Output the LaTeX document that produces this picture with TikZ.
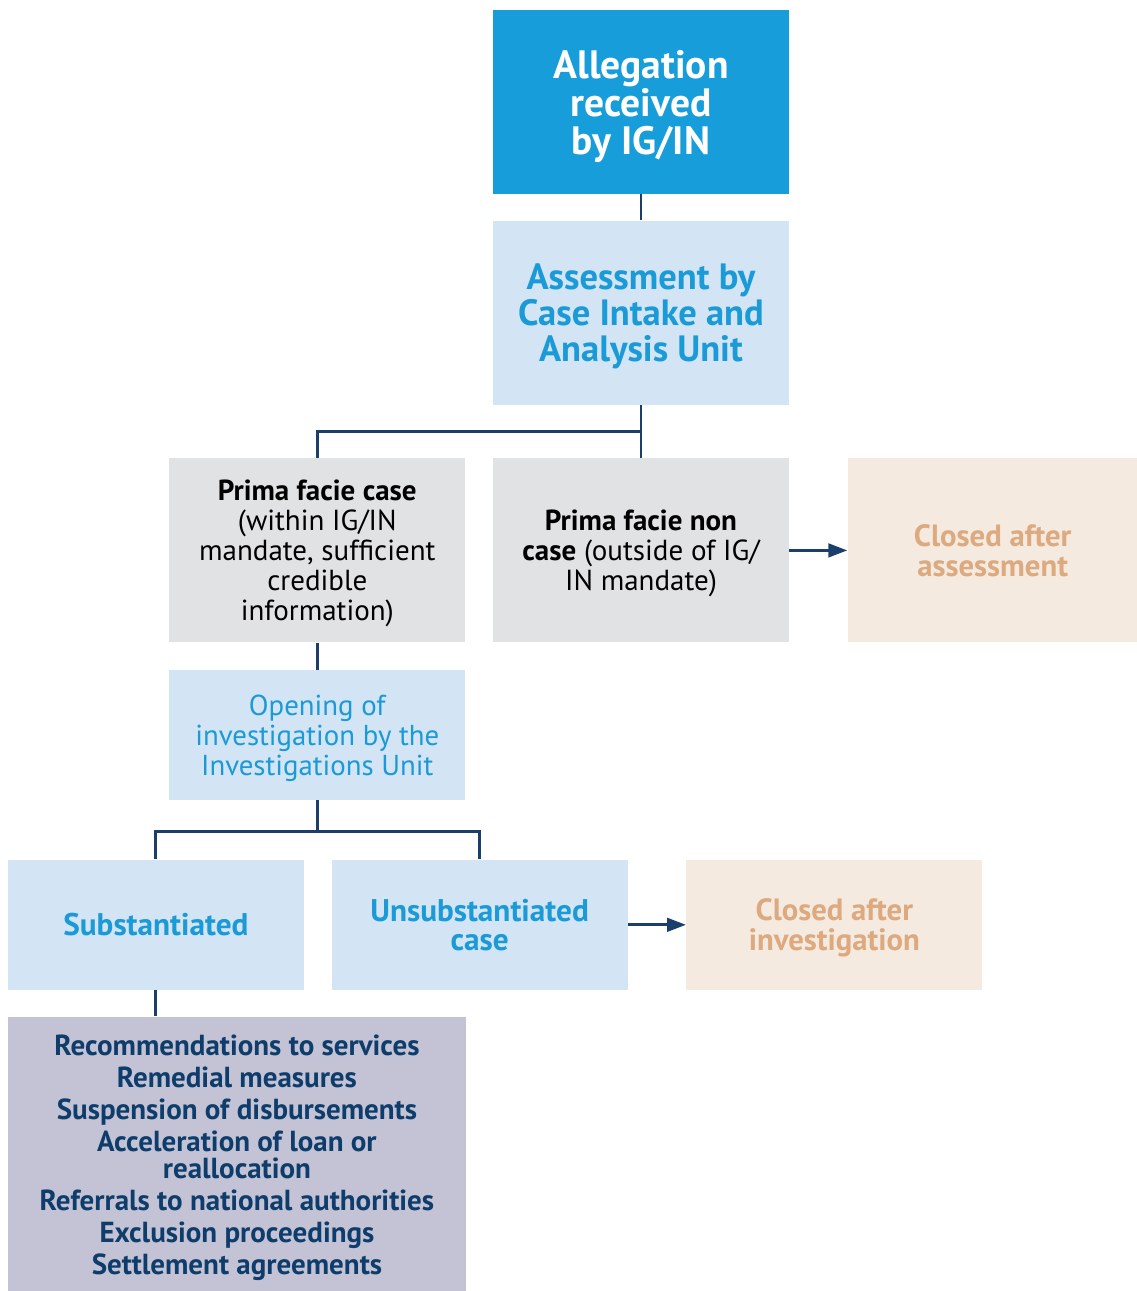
\documentclass[tikz,border=0pt]{standalone}
\usepackage{fontspec}
\setmainfont{PT Sans}
\usetikzlibrary{positioning,arrows.meta}

\definecolor{cdeep}{HTML}{179DD9}
\definecolor{cpale}{HTML}{D3E4F4}
\definecolor{cbluetext}{HTML}{1A9AD6}
\definecolor{cgrey}{HTML}{E1E2E4}
\definecolor{csand}{HTML}{F5EAE0}
\definecolor{csandtext}{HTML}{DDA97F}
\definecolor{clilac}{HTML}{C3C3D5}
\definecolor{cnavy}{HTML}{0F3D6B}
\definecolor{clink}{HTML}{1B3E6A}
\newcommand\fsz[2]{\fontsize{#1}{#2}\selectfont\lineskiplimit=-20pt}

\begin{document}
\begin{tikzpicture}[
        box/.style={rectangle,minimum width=5.92cm,minimum height=3.68cm,inner sep=0pt,
            text depth=0pt,align=center,font=\fsz{16.5}{17}},
        flat/.style={box,minimum height=2.6cm},
        link/.style={draw=clink,line width=1.7pt},
        >={Triangle[length=0.38cm,width=0.27cm]}]
        \useasboundingbox (0,0) rectangle (22.74,-25.82);

        \node[box,fill=cdeep,text=white,font=\fsz{22.5}{21.6}\bfseries] (alleg) at (12.82,-2.04)
            {Allegation\\received\\by IG/IN};
        \node[box,fill=cpale,text=cbluetext,font=\fsz{20.8}{20.5}\bfseries,below=0.52cm of alleg] (assess)
            {Assessment by\\Case Intake and\\Analysis Unit};
        \node[box,fill=cgrey,text=black,below=1.06cm of assess] (noncase)
            {\textbf{Prima facie non}\\\textbf{case} (outside of IG/\\IN mandate)};
        \node[box,fill=cgrey,text=black,left=0.54cm of noncase] (primcase)
            {\textbf{Prima facie case}\\(within IG/IN\\mandate, sufficient\\credible\\information)};
        \node[box,minimum width=5.8cm,fill=csand,text=csandtext,font=\fsz{17.5}{17}\bfseries,right=1.16cm of noncase] (closedA)
            {Closed after\\assessment};
        \node[flat,fill=cpale,text=cbluetext,font=\fsz{16.4}{17},below=0.54cm of primcase] (opening)
            {Opening of\\investigation by the\\Investigations Unit};
        \node[flat,fill=cpale,text=cbluetext,font=\fsz{17.8}{17}\bfseries,below left=1.18cm and 0.26cm of opening.south] (subst)
            {Substantiated};
        \node[flat,fill=cpale,text=cbluetext,font=\fsz{17.8}{17}\bfseries,below right=1.18cm and 0.28cm of opening.south] (unsub)
            {Unsubstantiated\\case};
        \node[flat,fill=csand,text=csandtext,font=\fsz{17.5}{17}\bfseries,right=1.16cm of unsub] (closedI)
            {Closed after\\investigation};
        \node[box,minimum width=9.16cm,minimum height=5.54cm,fill=clilac,text=cnavy,
            font=\fsz{16.5}{15.4}\bfseries,below=0.52cm of subst.south west,anchor=north west] (recs)
            {Recommendations to services\\[2.8pt]Remedial measures\\[2.8pt]Suspension of disbursements\\[2.8pt]
             Acceleration of loan or\\reallocation\\[2.8pt]Referrals to national authorities\\[2.8pt]
             Exclusion proceedings\\[2.8pt]Settlement agreements};

        \draw[link] (alleg) -- (assess);
        \draw[link] (assess) -- (noncase);
        \draw[link] (primcase.north) -- ++(0,0.53) -| (assess.south);
        \draw[link,->] (noncase) -- (closedA);
        \draw[link] (primcase) -- (opening);
        \foreach \v in {subst,unsub}
            \draw[link] (\v.north) -- ++(0,0.56) -| (opening.south);
        \draw[link,->] (unsub) -- (closedI);
        \draw[link] (subst.south) -- (subst.south |- recs.north);
    \end{tikzpicture}
\end{document}
